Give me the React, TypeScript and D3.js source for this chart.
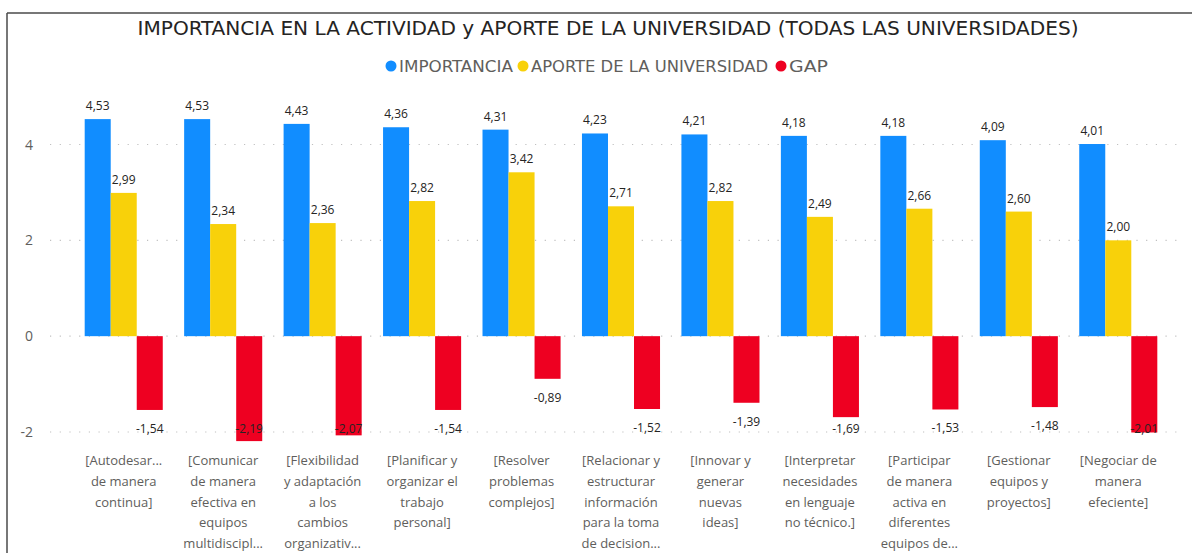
import React from "react";
import * as d3 from "d3";

const W = 1192;
const H = 553;

const categories: string[][] = [
  ["[Autodesar...", "de manera", "continua]"],
  ["[Comunicar", "de manera", "efectiva en", "equipos", "multidiscipl..."],
  ["[Flexibilidad", "y adaptación", "a los", "cambios", "organizativ..."],
  ["[Planificar y", "organizar el", "trabajo", "personal]"],
  ["[Resolver", "problemas", "complejos]"],
  ["[Relacionar y", "estructurar", "información", "para la toma", "de decision..."],
  ["[Innovar y", "generar", "nuevas", "ideas]"],
  ["[Interpretar", "necesidades", "en lenguaje", "no técnico.]"],
  ["[Participar", "de manera", "activa en", "diferentes", "equipos de..."],
  ["[Gestionar", "equipos y", "proyectos]"],
  ["[Negociar de", "manera", "efeciente]"],
];

const importancia = [4.53, 4.53, 4.43, 4.36, 4.31, 4.23, 4.21, 4.18, 4.18, 4.09, 4.01];
const aporte = [2.99, 2.34, 2.36, 2.82, 3.42, 2.71, 2.82, 2.49, 2.66, 2.6, 2.0];
const gap = [-1.54, -2.19, -2.07, -1.54, -0.89, -1.52, -1.39, -1.69, -1.53, -1.48, -2.01];

const seriesNames = ["IMPORTANCIA", "APORTE DE LA UNIVERSIDAD", "GAP"];
const seriesColors = ["#118DFF", "#F8D10A", "#EE0021"];
const yTicks = [-2, 0, 2, 4];

const title = "IMPORTANCIA EN LA ACTIVIDAD y APORTE DE LA UNIVERSIDAD (TODAS LAS UNIVERSIDADES)";

export default function App() {
  const seriesValues = [importancia, aporte, gap];
  const y = d3.scaleLinear().domain([-2, 4]).range([432, 144.5]);
  const x0 = d3
    .scaleBand<number>()
    .domain(d3.range(categories.length))
    .range([74, 1168])
    .paddingInner(0.215)
    .paddingOuter(0.1075);
  const x1 = d3.scaleBand<number>().domain([0, 1, 2]).range([0, x0.bandwidth()]);
  const fmt = (v: number) => d3.format(".2f")(v).replace(".", ",").replace("−", "-");
  const labelFont = "'Segoe UI', 'Open Sans', sans-serif";

  // legend layout
  const legendItems = [
    { cx: 391, tx: 399, w: 114 },
    { cx: 523, tx: 531, w: 237 },
    { cx: 781, tx: 789, w: 39 },
  ];

  return (
    <svg
      width={W}
      height={H}
      style={{ position: "absolute", left: 0, top: 0, background: "#fff" }}
    >
      {/* frame */}
      <line x1={7} y1={13} x2={W} y2={13} stroke="#4a4a4a" strokeWidth={1.5} />
      <line x1={7} y1={13} x2={7} y2={H} stroke="#4a4a4a" strokeWidth={1.5} />

      {/* title */}
      <text
        x={608}
        y={35}
        textAnchor="middle"
        fontFamily="'DejaVu Sans Condensed', 'DejaVu Sans', sans-serif"
        fontSize={19}
        fill="#252423"
        textLength={941}
        lengthAdjust="spacingAndGlyphs"
      >
        {title}
      </text>

      {/* legend */}
      {seriesNames.map((n, i) => (
        <g key={n}>
          <circle cx={legendItems[i].cx} cy={66} r={5.5} fill={seriesColors[i]} />
          <text
            x={legendItems[i].tx}
            y={71.5}
            fontFamily="'DejaVu Sans Condensed', sans-serif"
            fontSize={15.5}
            fill="#605E5C"
            textLength={legendItems[i].w}
            lengthAdjust="spacingAndGlyphs"
          >
            {n}
          </text>
        </g>
      ))}

      {/* gridlines + y ticks */}
      {yTicks.map((t) => (
        <g key={t}>
          <line
            x1={50}
            x2={1180}
            y1={y(t)}
            y2={y(t)}
            stroke="#c0c0c0"
            strokeWidth={1.2}
            strokeDasharray="1.2,8.5"
          />
          <text
            x={33}
            y={y(t) + 5}
            textAnchor="end"
            fontFamily={labelFont}
            fontSize={14}
            fill="#605E5C"
          >
            {t}
          </text>
        </g>
      ))}

      {/* bars */}
      {categories.map((_, ci) => (
        <g key={ci} transform={`translate(${x0(ci)},0)`}>
          {seriesValues.map((vals, si) => {
            const v = vals[ci];
            const top = Math.min(y(v), y(0));
            const h = Math.abs(y(v) - y(0));
            return (
              <rect
                key={si}
                x={x1(si)}
                y={top}
                width={x1.bandwidth()}
                height={h}
                fill={seriesColors[si]}
              />
            );
          })}
        </g>
      ))}

      {/* data labels */}
      {categories.map((_, ci) => (
        <g key={"l" + ci} transform={`translate(${x0(ci)},0)`}>
          {seriesValues.map((vals, si) => {
            const v = vals[ci];
            const cx = (x1(si) as number) + x1.bandwidth() / 2;
            const ly = v >= 0 ? y(v) - 9 : Math.min(y(v) + 23, 433);
            return (
              <text
                key={si}
                x={cx}
                y={ly}
                textAnchor="middle"
                fontFamily={labelFont}
                fontSize={12}
                fill="#252423"
              >
                {fmt(v)}
              </text>
            );
          })}
        </g>
      ))}

      {/* x axis category labels */}
      {categories.map((lines, ci) => (
        <text
          key={"c" + ci}
          textAnchor="middle"
          fontFamily={labelFont}
          fontSize={13}
          fill="#605E5C"
        >
          {lines.map((ln, li) => (
            <tspan
              key={li}
              x={(x0(ci) as number) + x0.bandwidth() / 2}
              y={465 + li * 20.8}
            >
              {ln}
            </tspan>
          ))}
        </text>
      ))}
    </svg>
  );
}
